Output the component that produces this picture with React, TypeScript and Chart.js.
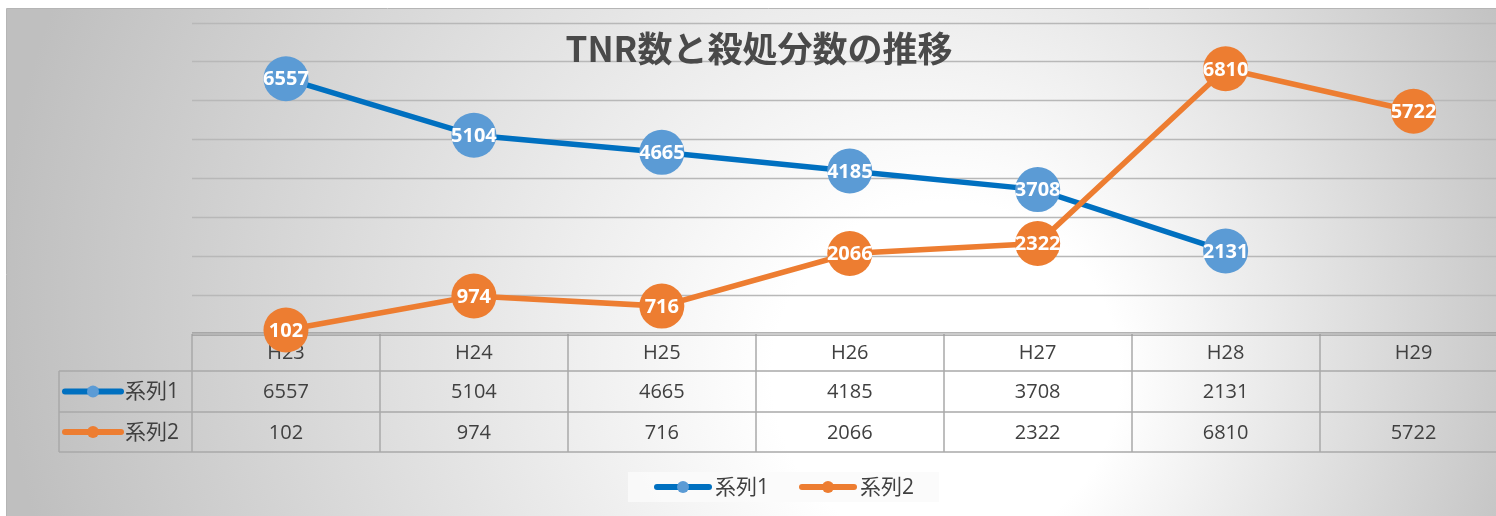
import { useEffect, useRef } from "react";
import { Chart, registerables } from "chart.js";

Chart.register(...registerables);

const categories = ["H23", "H24", "H25", "H26", "H27", "H28", "H29"];
const series1: (number | null)[] = [6557, 5104, 4665, 4185, 3708, 2131, null];
const series2: (number | null)[] = [102, 974, 716, 2066, 2322, 6810, 5722];
const seriesNames = ["系列1", "系列2"];
const yTicks = [1000, 2000, 3000, 4000, 5000, 6000, 7000, 8000];
const chartTitle = "TNR数と殺処分数の推移";

const BLUE_LINE = "#0070C0";
const BLUE_MARK = "#5B9BD5";
const ORANGE = "#ED7D31";
const TEXT = "#404040";
const GRID = "#b8b8b8";
const TABLE_LINE = "#a9a9a9";

const W = 1530;
const H = 540;

function drawKey(ctx: CanvasRenderingContext2D, x0: number, x1: number, y: number, line: string, mark: string) {
  ctx.save();
  ctx.strokeStyle = line;
  ctx.lineWidth = 6;
  ctx.lineCap = "round";
  ctx.beginPath();
  ctx.moveTo(x0, y);
  ctx.lineTo(x1, y);
  ctx.stroke();
  ctx.fillStyle = mark;
  ctx.beginPath();
  ctx.arc((x0 + x1) / 2, y, 6, 0, Math.PI * 2);
  ctx.fill();
  ctx.restore();
}

const decorPlugin = {
  id: "decor",
  beforeDraw(chart: any) {
    const ctx: CanvasRenderingContext2D = chart.ctx;
    ctx.save();
    ctx.fillStyle = "#ffffff";
    ctx.fillRect(0, 0, W, H);
    const g = ctx.createRadialGradient(990, 400, 0, 790, 290, 790);
    g.addColorStop(0, "#ffffff");
    g.addColorStop(0.22, "#ffffff");
    g.addColorStop(1, "#bfbfbf");
    ctx.fillStyle = g;
    ctx.fillRect(7, 9, W, H);
    ctx.strokeStyle = "#b5b5b5";
    ctx.lineWidth = 1;
    ctx.beginPath();
    ctx.moveTo(6.5, H);
    ctx.lineTo(6.5, 8.5);
    ctx.lineTo(W, 8.5);
    ctx.stroke();
    ctx.restore();
  },
  beforeDatasetsDraw(chart: any) {
    const ctx: CanvasRenderingContext2D = chart.ctx;
    const xs = chart.scales.x;
    const ys = chart.scales.y;
    const area = chart.chartArea;
    ctx.save();
    // gridlines
    ctx.strokeStyle = GRID;
    ctx.lineWidth = 1.5;
    yTicks.forEach((v) => {
      const py = Math.round(ys.getPixelForValue(v)) + 0.5;
      ctx.beginPath();
      ctx.moveTo(area.left, py);
      ctx.lineTo(W, py);
      ctx.stroke();
    });

    // title
    ctx.fillStyle = "#4a4a4a";
    ctx.font = "bold 35px 'Noto Sans CJK JP', 'Open Sans', sans-serif";
    ctx.textAlign = "center";
    ctx.textBaseline = "middle";
    ctx.fillText(chartTitle, 759, 49);

    // data table
    const axisY = ys.getPixelForValue(0);
    const row1 = 371;
    const row2 = 412;
    const row3 = 452;
    const step = (area.right - area.left) / categories.length;
    ctx.strokeStyle = TABLE_LINE;
    ctx.lineWidth = 1.5;
    for (let k = 0; k < categories.length; k++) {
      const px = Math.round(area.left + k * step);
      ctx.beginPath();
      ctx.moveTo(px, axisY);
      ctx.lineTo(px, row3);
      ctx.stroke();
    }
    ctx.beginPath();
    ctx.moveTo(59, row1);
    ctx.lineTo(59, row3);
    ctx.stroke();
    [row1, row2, row3].forEach((ry) => {
      ctx.beginPath();
      ctx.moveTo(59, ry);
      ctx.lineTo(W, ry);
      ctx.stroke();
    });
    // axis line (double)
    ctx.strokeStyle = "#9a9a9a";
    ctx.lineWidth = 1.2;
    [axisY - 1.2, axisY + 1.2].forEach((ly) => {
      ctx.beginPath();
      ctx.moveTo(area.left, ly);
      ctx.lineTo(W, ly);
      ctx.stroke();
    });

    ctx.fillStyle = TEXT;
    ctx.font = "20px 'Open Sans', 'Noto Sans CJK JP', sans-serif";
    ctx.textAlign = "center";
    ctx.textBaseline = "middle";
    categories.forEach((c, i) => {
      const px = xs.getPixelForValue(i);
      ctx.fillText(c, px, (axisY + row1) / 2 + 1);
      const a = series1[i];
      const b = series2[i];
      if (a !== null) ctx.fillText(String(a), px, (row1 + row2) / 2 + 1);
      if (b !== null) ctx.fillText(String(b), px, (row2 + row3) / 2 + 1);
    });
    drawKey(ctx, 65, 121, (row1 + row2) / 2, BLUE_LINE, BLUE_MARK);
    drawKey(ctx, 65, 121, (row2 + row3) / 2, ORANGE, ORANGE);
    ctx.textAlign = "left";
    ctx.font = "21px 'Open Sans', 'Noto Sans CJK JP', sans-serif";
    ctx.fillText(seriesNames[0], 125, (row1 + row2) / 2 + 1);
    ctx.fillText(seriesNames[1], 125, (row2 + row3) / 2 + 1);

    // legend
    ctx.fillStyle = "rgba(250,250,250,0.85)";
    ctx.fillRect(628, 472, 311, 30);
    drawKey(ctx, 657, 709, 487, BLUE_LINE, BLUE_MARK);
    drawKey(ctx, 802, 854, 487, ORANGE, ORANGE);
    ctx.fillStyle = TEXT;
    ctx.fillText(seriesNames[0], 715, 488);
    ctx.fillText(seriesNames[1], 860, 488);
    ctx.restore();
  },
  afterDatasetsDraw(chart: any) {
    const ctx: CanvasRenderingContext2D = chart.ctx;
    ctx.save();
    ctx.fillStyle = "#ffffff";
    ctx.font = "bold 20px 'Open Sans', sans-serif";
    ctx.textAlign = "center";
    ctx.textBaseline = "middle";
    chart.data.datasets.forEach((ds: any, di: number) => {
      const meta = chart.getDatasetMeta(di);
      ds.data.forEach((v: number | null, i: number) => {
        if (v === null) return;
        const pt = meta.data[i];
        ctx.fillText(String(v), pt.x, pt.y + 1);
      });
    });
    ctx.restore();
  },
};

export default function App() {
  const ref = useRef<HTMLCanvasElement | null>(null);
  useEffect(() => {
    if (!ref.current) return;
    const chart = new Chart(ref.current, {
      type: "line",
      data: {
        labels: categories,
        datasets: [
          {
            label: seriesNames[0],
            data: series1,
            borderColor: BLUE_LINE,
            backgroundColor: BLUE_MARK,
            borderWidth: 5.5,
            pointRadius: 22.5,
            pointHoverRadius: 22.5,
            pointBackgroundColor: BLUE_MARK,
            pointBorderWidth: 0,
            tension: 0,
            clip: false as any,
            order: 1,
          },
          {
            label: seriesNames[1],
            data: series2,
            borderColor: ORANGE,
            backgroundColor: ORANGE,
            borderWidth: 5.5,
            pointRadius: 22.5,
            pointHoverRadius: 22.5,
            pointBackgroundColor: ORANGE,
            pointBorderWidth: 0,
            tension: 0,
            clip: false as any,
            order: 0,
          },
        ],
      },
      options: {
        responsive: false,
        maintainAspectRatio: false,
        devicePixelRatio: 1,
        animation: false,
        events: [],
        layout: { padding: { left: 192, right: W - 1512, top: 22, bottom: H - 334 } },
        scales: {
          x: { type: "category", offset: true, display: false },
          y: { type: "linear", min: 0, max: 8000, display: false },
        },
        plugins: {
          legend: { display: false },
          title: { display: false },
          tooltip: { enabled: false },
        },
      },
      plugins: [decorPlugin],
    });
    return () => chart.destroy();
  }, []);
  return (
    <div
      style={{
        position: "fixed",
        left: 0,
        top: 0,
        width: 1496,
        height: 516,
        overflow: "hidden",
        background: "#fff",
      }}
    >
      <canvas ref={ref} width={W} height={H} style={{ display: "block", width: W, height: H }} />
    </div>
  );
}
